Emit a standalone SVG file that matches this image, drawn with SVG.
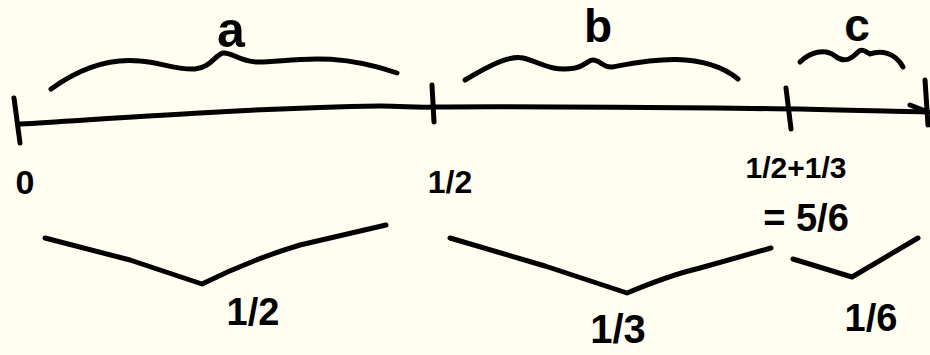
<svg xmlns="http://www.w3.org/2000/svg" width="930" height="355" viewBox="0 0 930 355">
<style>
.s{fill:none;stroke:#000;stroke-width:5;stroke-linecap:round;stroke-linejoin:round}
.t{font-family:"Liberation Sans","DejaVu Sans",sans-serif;fill:#000;text-anchor:middle;font-weight:bold}
</style>
<rect width="930" height="355" fill="#FFFEF0"/>
<g id="axis">
<path class="s" d="M20,124 C120,118 250,108 380,106 C405,106 415,108 433,107 C550,106 700,108 800,109 C860,111 900,111 928,112"/>
<path class="s" d="M910,105 L928,112"/>
<path class="s" d="M14,98 L20,143"/>
<path class="s" d="M432,85 L434,122"/>
<path class="s" d="M786,88 L791,129"/>
<path class="s" d="M925,80 L928,125"/>
</g>
<g id="braces-top">
<path class="s" d="M51,89 C80,68 110,58 140,61 C160,62 175,70 195,69 C210,68 215,55 223,53 C232,52 240,62 258,62 C290,62 330,50 397,73"/>
<path class="s" d="M465,80 C490,65 510,55 523,58 C540,62 550,72 575,68 C585,66 588,60 593,60 C600,60 603,68 612,67 C640,62 700,48 738,79"/>
<path class="s" d="M800,62 C810,52 825,48 835,56 C845,64 852,58 858,52 C862,48 866,52 870,54 C880,50 895,52 903,67"/>
</g>
<g id="braces-bottom">
<path class="s" d="M45,238 L130,260 L202,284 Q250,260 300,245 L386,225"/>
<path class="s" d="M450,238 L545,266 L627,293 Q670,275 700,268 L771,248"/>
<path class="s" d="M793,259 L852,277 L918,238"/>
</g>
<g id="labels">
<text class="t" x="231" y="47" font-size="50">a</text>
<text class="t" x="598" y="42" font-size="46">b</text>
<text class="t" x="857" y="41" font-size="46">c</text>
<text class="t" x="25" y="194" font-size="34">0</text>
<text class="t" x="450" y="193" font-size="32">1/2</text>
<text class="t" x="796" y="178" font-size="30">1/2+1/3</text>
<text class="t" x="806" y="231" font-size="38">= 5/6</text>
<text class="t" x="253" y="325" font-size="38">1/2</text>
<text class="t" x="618" y="343" font-size="40">1/3</text>
<text class="t" x="871" y="331" font-size="38">1/6</text>
</g>
</svg>
